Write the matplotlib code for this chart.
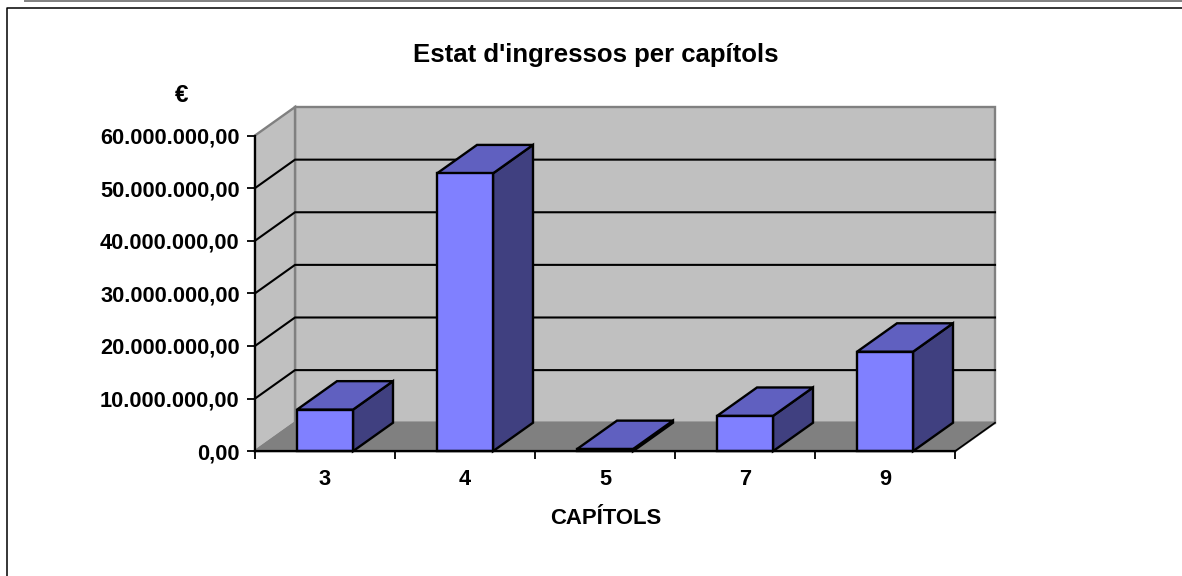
import matplotlib
matplotlib.use("Agg")
import matplotlib.pyplot as plt
from matplotlib.patches import Polygon

chart_title = "Estat d'ingressos per capítols"
x_title = "CAPÍTOLS"
y_title = "€"
categories = ["3", "4", "5", "7", "9"]
values = [7900000, 52800000, 400000, 6700000, 18900000]
y_ticks = [0, 10000000, 20000000, 30000000, 40000000, 50000000, 60000000]
y_labels = ["0,00", "10.000.000,00", "20.000.000,00", "30.000.000,00",
            "40.000.000,00", "50.000.000,00", "60.000.000,00"]

W, H = 1182, 576
plt.rcParams['font.family'] = ['Liberation Sans', 'DejaVu Sans']
fig = plt.figure(figsize=(W / 100, H / 100), dpi=100, facecolor="white")

def px(x0, y0, x1, y1):
    return [x0 / W, 1 - y1 / H, (x1 - x0) / W, (y1 - y0) / H]

# outer frame
frame = fig.add_axes([0, 0, 1, 1], zorder=0)
frame.set_xlim(0, W); frame.set_ylim(H, 0); frame.axis("off")
frame.plot([6.5, 6.5, 1182], [576, 7.5, 7.5], color="black", lw=1.1, clip_on=False)
frame.plot([25, 1182], [1, 1], color="#808080", lw=1.4, clip_on=False)

# front plane of the 3D box
ax = fig.add_axes(px(255, 135.5, 955, 451.2), zorder=1)
ax.set_xlim(0, 5)
ax.set_ylim(0, 60000000)
ax.patch.set_alpha(0)

dx = 40 / 140
dy = 28.5 / 316 * 60000000
grey = "#C0C0C0"; floor = "#808080"
front = "#8080FF"; top = "#6060C0"; side = "#404080"
lw = 1.7

def poly(points, fc, ec="black", z=2, lw_=lw):
    ax.add_patch(Polygon(points, closed=True, facecolor=fc, edgecolor=ec,
                         lw=lw_, zorder=z, clip_on=False, joinstyle="miter"))

# walls
poly([(dx, dy), (5 + dx, dy), (5 + dx, 60000000 + dy), (dx, 60000000 + dy)], grey, "#808080", 1)
poly([(0, 0), (dx, dy), (dx, 60000000 + dy), (0, 60000000)], grey, "#808080", 1)
poly([(0, 0), (5, 0), (5 + dx, dy), (dx, dy)], floor, "#808080", 1)

# gridlines on walls
for t in y_ticks[1:-1]:
    ax.plot([0, dx, 5 + dx], [t, t + dy, t + dy], color="black", lw=1.5, zorder=1.5,
            clip_on=False, solid_joinstyle="miter")
ax.plot([5, 5 + dx], [0, dy], color="black", lw=1.2, zorder=1.5, clip_on=False)

# bars
half = 0.2
for i, v in enumerate(values):
    c = i + 0.5
    l, r = c - half, c + half
    poly([(r, 0), (r + dx, dy), (r + dx, v + dy), (r, v)], side, z=3)
    poly([(l, v), (r, v), (r + dx, v + dy), (l + dx, v + dy)], top, z=3)
    poly([(l, 0), (r, 0), (r, v), (l, v)], front, z=4)

# axes
for s in ("top", "right"):
    ax.spines[s].set_visible(False)
for s in ("left", "bottom"):
    ax.spines[s].set_linewidth(1.6)
    ax.spines[s].set_zorder(5)
ax.set_xticks(range(6))
ax.set_xticklabels([])
ax.set_xticks([i + 0.5 for i in range(5)], labels=categories, minor=True)
ax.tick_params(axis="x", which="major", length=6, width=1.3, direction="out")
ax.tick_params(axis="x", which="minor", length=0, pad=12.5)
ax.set_yticks(y_ticks, labels=y_labels)
ax.tick_params(axis="y", length=6, width=1.3, direction="out", pad=5)
for t in ax.get_xticklabels(minor=True) + ax.get_yticklabels():
    t.set_fontsize(15.7)
    t.set_fontweight("bold")

frame.text(596, 55, chart_title, ha="center", va="center", fontsize=18.5, fontweight="bold")
frame.text(606, 519, x_title, ha="center", va="center", fontsize=15.9, fontweight="bold")
frame.text(182, 95, y_title, ha="center", va="center", fontsize=17.5, fontweight="bold")

fig.savefig("out.png", dpi=100, facecolor="white")
